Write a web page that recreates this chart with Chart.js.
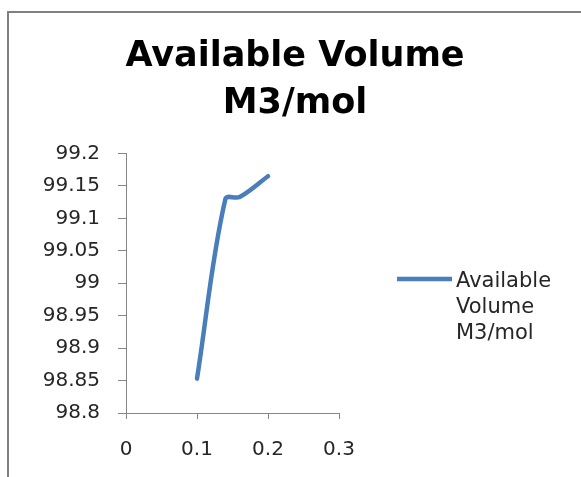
<!DOCTYPE html>
<html>
<head>
<meta charset="utf-8">
<title>Available Volume M3/mol</title>
<script src="https://cdn.jsdelivr.net/npm/chart.js@4.4.1/dist/chart.umd.min.js"></script>
<style>
  html, body { margin: 0; padding: 0; background: #fff; }
  canvas { display: block; }
</style>
</head>
<body>
<canvas id="volume" width="581" height="477"></canvas>
<script>
// values
const fractions = [0.1, 0.14, 0.16, 0.2]
const volumes = [98.853, 99.13, 99.133, 99.165]
const titleLines = ['Available Volume', 'M3/mol']
const legendLines = ['Available', 'Volume', 'M3/mol']
const xTicks = [0, 0.1, 0.2, 0.3]
const yTicks = [98.8, 98.85, 98.9, 98.95, 99, 99.05, 99.1, 99.15, 99.2]

const FONT = 'DejaVu Sans'
const AXIS_GREY = '#868686'
const LINE_BLUE = '#4a7ebb'

// grey frame of the excel chart object, cut off at right and bottom
const frame = {
    id: 'frame',
    beforeDraw(chart){
        const ctx = chart.ctx
        ctx.save()
        ctx.fillStyle = '#fff'
        ctx.fillRect(0, 0, chart.width, chart.height)
        ctx.strokeStyle = '#808080'
        ctx.lineWidth = 2
        ctx.beginPath()
        ctx.moveTo(8, chart.height)
        ctx.lineTo(8, 12)
        ctx.lineTo(chart.width, 12)
        ctx.stroke()
        ctx.restore()
    }
}

// excel style legend: line sample next to a wrapped label
const sideLegend = {
    id: 'sideLegend',
    afterDraw(chart){
        const ctx = chart.ctx
        const area = chart.chartArea
        const ds = chart.data.datasets[0]
        const x = area.right + 58
        const y = 279
        ctx.save()
        ctx.strokeStyle = ds.borderColor
        ctx.lineWidth = ds.borderWidth
        ctx.beginPath()
        ctx.moveTo(x, y)
        ctx.lineTo(x + 55, y)
        ctx.stroke()
        ctx.fillStyle = '#262626'
        ctx.font = '21px "' + FONT + '"'
        ctx.textBaseline = 'alphabetic'
        legendLines.forEach((line, i) => {
            ctx.fillText(line, x + 59, y + 7.5 + i * 26.2)
        })
        ctx.restore()
    }
}

function tickLabel(value){
    return String(Number(value.toFixed(2)))
}

function createChart(){
    const ctx = document.querySelector('#volume')
    new Chart(ctx, {
        type: 'line',
        data: {
            datasets: [{
                label: legendLines.join(' '),
                data: fractions.map((f, i) => ({x: f, y: volumes[i]})),
                xAxisID: 'x',
                yAxisID: 'y',
                borderColor: LINE_BLUE,
                borderWidth: 4.5,
                borderCapStyle: 'round',
                borderJoinStyle: 'round',
                pointRadius: 0,
                tension: 0.35,
                fill: false
            }]
        },
        options: {
            responsive: false,
            animation: false,
            layout: {padding: {left: 9, right: 0, top: 0, bottom: 0}},
            plugins: {
                legend: {display: false},
                tooltip: {enabled: false},
                title: {
                    display: true,
                    text: titleLines,
                    color: '#000',
                    font: {family: FONT, size: 35, weight: 'bold', lineHeight: 1.35},
                    padding: {top: 33, bottom: 26}
                }
            },
            scales: {
                x: {
                    type: 'linear',
                    min: 0,
                    max: 0.3,
                    afterBuildTicks: scale => { scale.ticks = xTicks.map(v => ({value: v})) },
                    afterFit: scale => { scale.height = 64 },
                    grid: {drawOnChartArea: false, color: AXIS_GREY, tickLength: 6},
                    border: {color: AXIS_GREY, width: 1},
                    ticks: {
                        color: '#262626',
                        font: {family: FONT, size: 20},
                        padding: 19,
                        maxRotation: 0,
                        callback: tickLabel
                    }
                },
                y: {
                    type: 'linear',
                    min: 98.8,
                    max: 99.2,
                    afterBuildTicks: scale => { scale.ticks = yTicks.map(v => ({value: v})) },
                    afterFit: scale => { scale.width = 117 },
                    grid: {drawOnChartArea: false, color: AXIS_GREY, tickLength: 8},
                    border: {color: AXIS_GREY, width: 1},
                    ticks: {
                        color: '#262626',
                        font: {family: FONT, size: 20},
                        padding: 18,
                        callback: tickLabel
                    }
                },
                // empty axis on the right that only keeps room for the legend
                legendRoom: {
                    axis: 'y',
                    position: 'right',
                    afterFit: scale => { scale.width = 242 },
                    grid: {display: false},
                    border: {display: false},
                    ticks: {display: false}
                }
            }
        },
        plugins: [frame, sideLegend]
    })
}

createChart()
</script>
</body>
</html>
